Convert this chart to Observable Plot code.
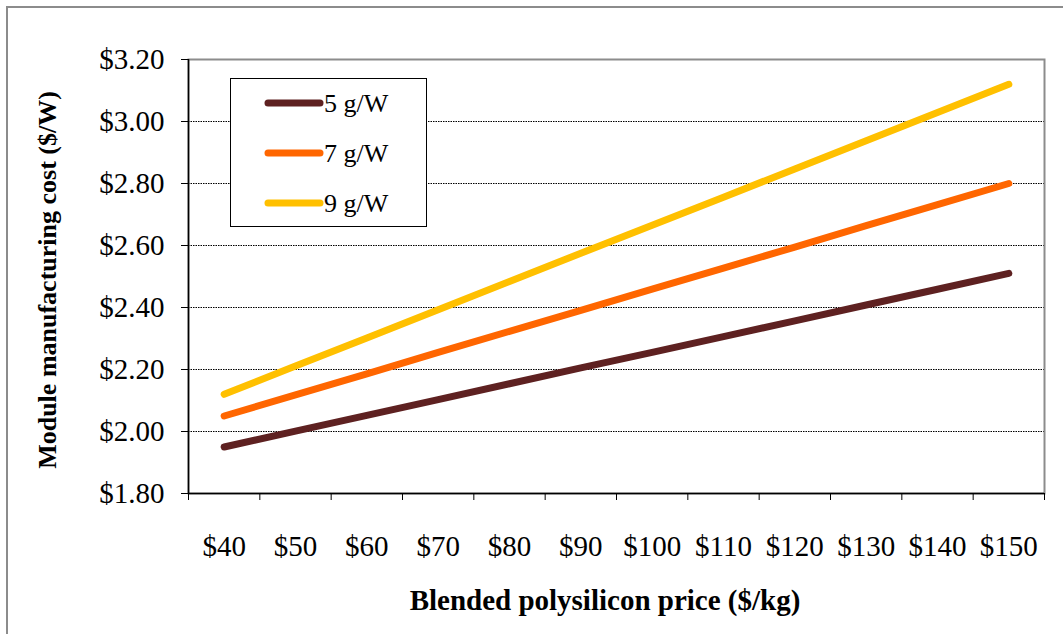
<!DOCTYPE html>
<html>
<head>
<meta charset="utf-8">
<script src="https://cdn.jsdelivr.net/npm/d3@7"></script>
<script src="https://cdn.jsdelivr.net/npm/@observablehq/plot@0.6"></script>
<style>
  html, body { margin: 0; padding: 0; background: #fff; }
  #chart { position: relative; width: 1063px; height: 634px; }
</style>
</head>
<body>
<div id="chart"></div>
<script>
const prices = [40, 50, 60, 70, 80, 90, 100, 110, 120, 130, 140, 150];
const series5 = [1.950, 2.001, 2.052, 2.103, 2.154, 2.205, 2.255, 2.306, 2.357, 2.408, 2.459, 2.510];
const series7 = [2.050, 2.118, 2.186, 2.255, 2.323, 2.391, 2.459, 2.527, 2.595, 2.664, 2.732, 2.800];
const series9 = [2.120, 2.211, 2.302, 2.393, 2.484, 2.575, 2.665, 2.756, 2.847, 2.938, 3.029, 3.120];
const seriesNames = ["5 g/W", "7 g/W", "9 g/W"];
const seriesColors = ["#5E2121", "#FF6600", "#FFC000"];
const yTicks = [1.80, 2.00, 2.20, 2.40, 2.60, 2.80, 3.00, 3.20];
const xBoundaries = [35, 45, 55, 65, 75, 85, 95, 105, 115, 125, 135, 145, 155];
const xTitle = "Blended polysilicon price ($/kg)";
const yTitle = "Module manufacturing cost ($/W)";

const allSeries = [series5, series7, series9];
const data = [];
allSeries.forEach((vals, i) => {
  prices.forEach((p, j) => data.push({series: seriesNames[i], price: p, cost: vals[j]}));
});

const font = "'Liberation Serif', 'Times New Roman', serif";

const plot = Plot.plot({
  width: 1063,
  height: 634,
  marginLeft: 188,
  marginRight: 19,
  marginTop: 59,
  marginBottom: 141,
  style: {fontFamily: font, background: "transparent", color: "#000"},
  x: {type: "linear", domain: [35, 155]},
  y: {domain: [1.8, 3.2]},
  color: {domain: seriesNames, range: seriesColors},
  marks: [
    Plot.gridY(yTicks.slice(1, -1), {stroke: "#000", strokeOpacity: 1, strokeWidth: 1, strokeDasharray: "1.5,1"}),
    Plot.frame({stroke: "#8c8c8c", strokeWidth: 2}),
    Plot.axisY({ticks: yTicks, tickSize: 7, tickPadding: 17, tickFormat: d => "$" + d.toFixed(2), fontSize: 29, label: null, stroke: "#000"}),
    Plot.axisX({ticks: xBoundaries, tickSize: 7, tickFormat: () => "", label: null}),
    Plot.axisX({ticks: prices, tickSize: 0, tickPadding: 42, tickFormat: d => "$" + d, fontSize: 29, label: null}),
    Plot.ruleY([1.8], {stroke: "#000", strokeWidth: 1.5}),
    Plot.ruleX([35], {stroke: "#000", strokeWidth: 1.5}),
    Plot.line(data, {x: "price", y: "cost", z: "series", stroke: "series", strokeWidth: 7, strokeLinecap: "round", strokeLinejoin: "round"})
  ]
});

document.getElementById("chart").appendChild(plot);

const svg = d3.select(plot);
// outer border (left and top visible)
svg.append("rect").attr("x", 7).attr("y", 7).attr("width", 1070).attr("height", 640)
  .attr("fill", "none").attr("stroke", "#8c8c8c").attr("stroke-width", 2);

// Legend box
const lg = svg.append("g").attr("font-family", font).attr("text-anchor", "start");
lg.append("rect").attr("x", 230.5).attr("y", 78.5).attr("width", 196).attr("height", 148)
  .attr("fill", "#fff").attr("stroke", "#000").attr("stroke-width", 1);
seriesNames.forEach((name, i) => {
  const yy = 103 + i * 50;
  lg.append("line").attr("x1", 268).attr("x2", 320).attr("y1", yy).attr("y2", yy)
    .attr("stroke", seriesColors[i]).attr("stroke-width", 7).attr("stroke-linecap", "round");
  lg.append("text").attr("x", 324).attr("y", yy).attr("dy", "0.35em").attr("text-anchor", "start")
    .attr("font-size", 26).attr("fill", "#000").text(name);
});

// Axis titles
svg.append("text").attr("x", 605).attr("y", 600).attr("dy", "0.35em").attr("text-anchor", "middle")
  .attr("font-family", font).attr("font-weight", "bold").attr("font-size", 29).text(xTitle);
svg.append("text").attr("transform", "translate(47,280) rotate(-90)").attr("dy", "0.35em").attr("text-anchor", "middle")
  .attr("font-family", font).attr("font-weight", "bold").attr("font-size", 26).text(yTitle);
</script>
</body>
</html>
